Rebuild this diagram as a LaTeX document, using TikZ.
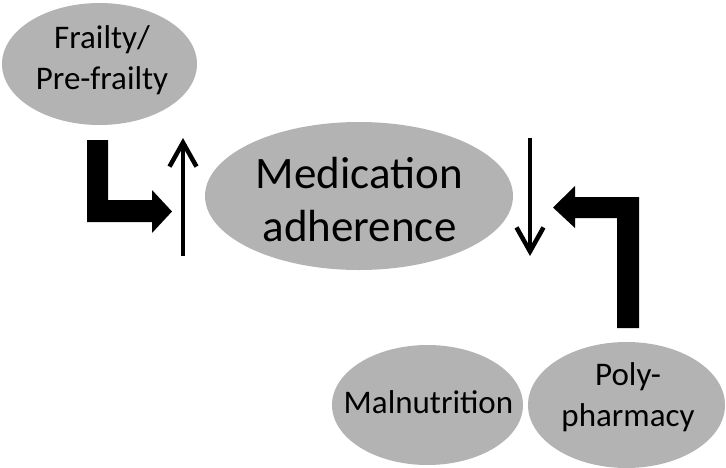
\documentclass[tikz,border=0pt]{standalone}
\usepackage{fontspec}
\setmainfont{Carlito}
\usetikzlibrary{shapes.geometric,arrows.meta}
\definecolor{ellgray}{RGB}{179,179,179}
\tikzset{
  blob/.style={ellipse, fill=ellgray, inner sep=0pt, outer sep=0pt},
  lbl/.style={inner sep=0pt, align=center, text=black},
  smalltext/.style={lbl, font=\fontsize{33}{41}\selectfont},
  bigtext/.style={lbl, font=\fontsize{45}{53}\selectfont},
  thinarrow/.style={line width=4.5pt, -{Straight Barb[length=24pt, width=27pt, line width=4.5pt]}},
  bigarrow/.style={fill=black, draw=none}
}
\begin{document}
\begin{tikzpicture}[x=1pt, y=-1pt]
\useasboundingbox (0,0) rectangle (726,467);
% ellipses
\node[blob, minimum width=195pt, minimum height=122pt] (frail) at (99.5,64) {};
\node[blob, minimum width=308pt, minimum height=148pt] (med) at (359,196) {};
\node[blob, minimum width=191pt, minimum height=120pt] (mal) at (427.5,405) {};
\node[blob, minimum width=197pt, minimum height=126pt] (poly) at (626.5,405) {};
% texts
\node[smalltext] (frailT) at (102,60) {Frailty/\\Pre-frailty};
\node[bigtext] (medT) at (359.5,200) {Medication\\adherence};
\node[smalltext] (malT) at (428.5,402) {Malnutrition};
\node[smalltext] (polyT) at (628,397) {Poly-\\pharmacy};
% thin arrows
\coordinate (upS) at (183,256);
\coordinate (upE) at (183,138);
\coordinate (dnS) at (530,138);
\coordinate (dnE) at (530,256);
\draw[thinarrow] (upS) -- (upE);
\draw[thinarrow] (dnS) -- (dnE);
% thick bent arrows
\fill[bigarrow] (87,140) -- (108,140) -- (108,200) -- (152,200) -- (152,190) -- (172,211.5) -- (152,233) -- (152,222) -- (87,222) -- cycle;
\fill[bigarrow] (639,197) -- (639,328) -- (617,328) -- (617,218) -- (575,218) -- (575,228) -- (553,207.5) -- (575,186) -- (575,197) -- cycle;
\end{tikzpicture}
\end{document}
